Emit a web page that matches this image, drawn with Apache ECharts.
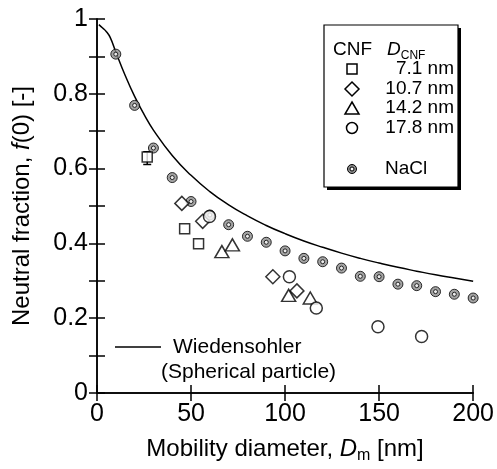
<!DOCTYPE html>
<html>
<head>
<meta charset="utf-8">
<script src="https://cdn.jsdelivr.net/npm/echarts@6/dist/echarts.min.js"></script>
<style>html,body{margin:0;padding:0;background:#fff}#main{width:497px;height:469px}</style>
</head>
<body>
<div id="main"></div>
<script>
var FONT = '"Liberation Sans", Arial, sans-serif';

// NaCl (spherical) points
var naclX = [10, 20, 30, 40, 50, 60, 70, 80, 90, 100, 110, 120, 130, 140, 150, 160, 170, 180, 190, 200];
var naclY = [0.906, 0.769, 0.655, 0.576, 0.512, 0.476, 0.450, 0.419, 0.403, 0.380, 0.360, 0.351, 0.334, 0.312, 0.311, 0.291, 0.287, 0.271, 0.264, 0.254];

// CNF, one list per D_CNF  [Dm, f(0)]
var cnf71 = [[26.7, 0.631], [46.6, 0.439], [54.0, 0.399]];
var cnf107 = [[45.1, 0.507], [56.2, 0.459], [93.5, 0.311], [106.3, 0.273]];
var cnf142 = [[66.4, 0.378], [72.0, 0.396], [101.9, 0.261], [113.4, 0.254]];
var cnf178 = [[59.8, 0.472], [102.3, 0.311], [116.6, 0.227], [149.4, 0.177], [172.6, 0.151]];

// error bar of the first 7.1 nm point [Dm, low, high]
var errBars = [[26.7, 0.611, 0.645]];

// Wiedensohler curve
var curveX = [1, 3, 5, 7, 10, 15, 20, 25, 30, 40, 50, 60, 70, 80, 90, 100, 110, 120, 130, 140, 150, 160, 170, 180, 190, 200];
var curveY = [0.985, 0.976, 0.966, 0.951, 0.912, 0.849, 0.793, 0.745, 0.703, 0.635, 0.582, 0.5385, 0.503, 0.4735, 0.448, 0.426, 0.4065, 0.3896, 0.374, 0.360, 0.3475, 0.336, 0.3258, 0.316, 0.3073, 0.299];

function pairs(xs, ys) {
  return xs.map(function (x, i) { return [x, ys[i]]; });
}

var chart = echarts.init(document.getElementById('main'));

var axisLine = { show: true, lineStyle: { color: '#000', width: 1.5 } };
var tickStyle = { show: true, inside: true, length: 8, lineStyle: { color: '#000', width: 1.5 } };

var openMarker = {
  color: '#fff',
  borderColor: '#000',
  borderWidth: 1.5
};

var option = {
  animation: false,
  backgroundColor: '#fff',
  grid: { left: 97, top: 19, right: 21, bottom: 72 },
  xAxis: [{
    type: 'value', min: 0, max: 200, interval: 50,
    axisLine: axisLine, axisTick: tickStyle, splitLine: { show: false },
    axisLabel: { color: '#000', fontSize: 25, fontFamily: FONT, margin: 9 },
    name: '{a|Mobility diameter, }{i|D}{s|m}{a| [nm]}',
    nameLocation: 'middle', nameGap: 41,
    nameTextStyle: {
      color: '#000', fontFamily: FONT, fontSize: 24,
      rich: {
        a: { fontSize: 24, fontFamily: FONT, color: '#000', lineHeight: 30 },
        i: { fontSize: 24, fontFamily: FONT, color: '#000', fontStyle: 'italic', lineHeight: 30 },
        s: { fontSize: 16, fontFamily: FONT, color: '#000', verticalAlign: 'bottom', lineHeight: 15 }
      }
    }
  }, {
    type: 'value', position: 'top', min: 0, max: 200, interval: 50,
    axisLine: axisLine, axisTick: tickStyle, axisLabel: { show: false }, splitLine: { show: false }
  }],
  yAxis: [{
    type: 'value', min: 0, max: 1, interval: 0.1,
    axisLine: axisLine, axisTick: tickStyle, splitLine: { show: false },
    axisLabel: {
      color: '#000', fontSize: 25, fontFamily: FONT, margin: 9,
      formatter: function (v) {
        var k = Math.round(v * 10);
        if (k % 2) return '';
        return k === 0 ? '0' : (k === 10 ? '1' : (k / 10).toFixed(1));
      }
    },
    name: '{a|Neutral fraction, }{i|f}{a|(0) [-]}',
    nameLocation: 'middle', nameGap: 63, nameRotate: 90,
    nameTextStyle: {
      color: '#000', fontFamily: FONT, fontSize: 24,
      rich: {
        a: { fontSize: 24, fontFamily: FONT, color: '#000' },
        i: { fontSize: 24, fontFamily: FONT, color: '#000', fontStyle: 'italic' }
      }
    }
  }, {
    type: 'value', position: 'right', min: 0, max: 1, interval: 0.1,
    axisLine: axisLine, axisTick: tickStyle, axisLabel: { show: false }, splitLine: { show: false }
  }],
  series: [
    {
      name: 'Wiedensohler', type: 'line', data: pairs(curveX, curveY),
      smooth: true, showSymbol: false, symbol: 'none',
      lineStyle: { color: '#000', width: 1.5 }, z: 2
    },
    {
      type: 'custom', z: 3,
      renderItem: function (params, api) {
        var top = api.coord([api.value(0), api.value(2)]);
        var bot = api.coord([api.value(0), api.value(1)]);
        var st = { stroke: '#000', lineWidth: 1.5 };
        return {
          type: 'group', children: [
            { type: 'line', shape: { x1: top[0], y1: top[1], x2: bot[0], y2: bot[1] }, style: st },
            { type: 'line', shape: { x1: top[0] - 4, y1: top[1], x2: top[0] + 4, y2: top[1] }, style: st },
            { type: 'line', shape: { x1: bot[0] - 4, y1: bot[1], x2: bot[0] + 4, y2: bot[1] }, style: st }
          ]
        };
      },
      data: errBars
    },
    {
      name: 'NaCl', type: 'scatter', data: pairs(naclX, naclY), symbol: 'circle', symbolSize: 10,
      itemStyle: { color: '#8c8c8c', borderColor: '#000', borderWidth: 1 }, z: 4
    },
    {
      name: 'NaCl core', type: 'scatter', data: pairs(naclX, naclY), symbol: 'circle', symbolSize: 4,
      itemStyle: { color: '#fff', borderColor: '#000', borderWidth: 1 }, z: 5
    },
    { name: '7.1 nm', type: 'scatter', data: cnf71, symbol: 'rect', symbolSize: 10, itemStyle: openMarker, z: 6 },
    { name: '10.7 nm', type: 'scatter', data: cnf107, symbol: 'diamond', symbolSize: 14, itemStyle: openMarker, z: 6 },
    { name: '14.2 nm', type: 'scatter', data: cnf142, symbol: 'triangle', symbolSize: [14, 12], itemStyle: openMarker, z: 6 },
    { name: '17.8 nm', type: 'scatter', data: cnf178, symbol: 'circle', symbolSize: 12, itemStyle: openMarker, z: 6 }
  ],
  graphic: [
    // legend box with drop shadow
    { type: 'rect', z: 10, shape: { x: 327, y: 28, width: 134, height: 162 }, style: { fill: '#000' } },
    { type: 'rect', z: 11, shape: { x: 324, y: 25, width: 134, height: 162 }, style: { fill: '#fff', stroke: '#000', lineWidth: 1.2 } },
    { type: 'text', z: 12, x: 333, y: 50, style: { text: 'CNF', font: '19px ' + FONT, fill: '#000', verticalAlign: 'middle' } },
    {
      type: 'text', z: 12, x: 387, y: 50,
      style: {
        text: '{i|D}{s|CNF}', fill: '#000', verticalAlign: 'middle',
        rich: {
          i: { fontSize: 19, fontFamily: FONT, fontStyle: 'italic', lineHeight: 24 },
          s: { fontSize: 12, fontFamily: FONT, verticalAlign: 'bottom', lineHeight: 12 }
        }
      }
    },
    { type: 'rect', z: 12, shape: { x: 347, y: 64, width: 10, height: 10 }, style: { fill: '#fff', stroke: '#000', lineWidth: 1.5 } },
    { type: 'polygon', z: 12, shape: { points: [[352, 82], [359, 89], [352, 96], [345, 89]] }, style: { fill: '#fff', stroke: '#000', lineWidth: 1.5 } },
    { type: 'polygon', z: 12, shape: { points: [[352, 102], [359, 114], [345, 114]] }, style: { fill: '#fff', stroke: '#000', lineWidth: 1.5 } },
    { type: 'circle', z: 12, shape: { cx: 352, cy: 128, r: 5.5 }, style: { fill: '#fff', stroke: '#000', lineWidth: 1.5 } },
    { type: 'circle', z: 12, shape: { cx: 352, cy: 169, r: 4.5 }, style: { fill: '#8c8c8c', stroke: '#000', lineWidth: 1 } },
    { type: 'circle', z: 13, shape: { cx: 352, cy: 169, r: 2 }, style: { fill: '#fff', stroke: '#000', lineWidth: 1 } },
    { type: 'text', z: 12, x: 454, y: 69, style: { text: '7.1 nm', font: '19px ' + FONT, fill: '#000', align: 'right', verticalAlign: 'middle' } },
    { type: 'text', z: 12, x: 454, y: 89, style: { text: '10.7 nm', font: '19px ' + FONT, fill: '#000', align: 'right', verticalAlign: 'middle' } },
    { type: 'text', z: 12, x: 454, y: 108, style: { text: '14.2 nm', font: '19px ' + FONT, fill: '#000', align: 'right', verticalAlign: 'middle' } },
    { type: 'text', z: 12, x: 454, y: 128, style: { text: '17.8 nm', font: '19px ' + FONT, fill: '#000', align: 'right', verticalAlign: 'middle' } },
    { type: 'text', z: 12, x: 385, y: 169, style: { text: 'NaCl', font: '19px ' + FONT, fill: '#000', verticalAlign: 'middle' } },
    // curve key
    { type: 'line', z: 12, shape: { x1: 115, y1: 347, x2: 161, y2: 347 }, style: { stroke: '#000', lineWidth: 1.5 } },
    { type: 'text', z: 12, x: 173, y: 347, style: { text: 'Wiedensohler', font: '21px ' + FONT, fill: '#000', verticalAlign: 'middle' } },
    { type: 'text', z: 12, x: 161, y: 372, style: { text: '(Spherical particle)', font: '21px ' + FONT, fill: '#000', verticalAlign: 'middle' } }
  ]
};

chart.setOption(option);
</script>
</body>
</html>
